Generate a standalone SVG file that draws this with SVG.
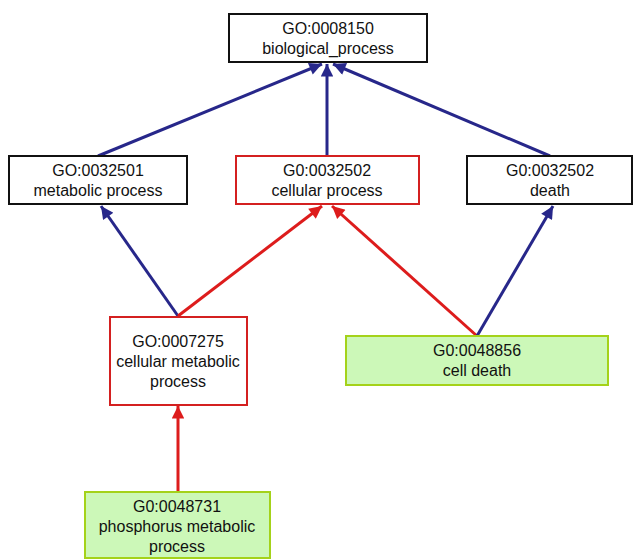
<svg xmlns="http://www.w3.org/2000/svg" width="641" height="559" viewBox="0 0 641 559">
<style>
.n rect{stroke-width:2}
.w{fill:#fff;stroke:#111}
.r{fill:#fff;stroke:#d42020}
.g{fill:#ccf8b8;stroke:#a4d21a}
text{font-family:"Liberation Sans",Arial,sans-serif;font-size:16px;fill:#111;text-anchor:middle}
.b{stroke:#27278a;stroke-width:3;fill:none}
.rd{stroke:#dd1c1c;stroke-width:3;fill:none}
</style>
<defs>
<marker id="ab" viewBox="0 0 10 10" refX="10" refY="5" markerWidth="5.8" markerHeight="4.2" orient="auto" markerUnits="strokeWidth"><path d="M0,0L10,5L0,10z" fill="#27278a"/></marker>
<marker id="ar" viewBox="0 0 10 10" refX="10" refY="5" markerWidth="5.8" markerHeight="4.2" orient="auto" markerUnits="strokeWidth"><path d="M0,0L10,5L0,10z" fill="#dd1c1c"/></marker>
</defs>
<rect width="641" height="559" fill="#fff"/>
<g id="edges">
<line class="b" x1="98" y1="156" x2="322" y2="64" marker-end="url(#ab)"/>
<line class="b" x1="327" y1="156" x2="327" y2="64" marker-end="url(#ab)"/>
<line class="b" x1="550" y1="156" x2="333" y2="64" marker-end="url(#ab)"/>
<line class="b" x1="178" y1="316" x2="101" y2="206" marker-end="url(#ab)"/>
<line class="rd" x1="178" y1="316" x2="322" y2="206" marker-end="url(#ar)"/>
<line class="rd" x1="477" y1="336" x2="332" y2="206" marker-end="url(#ar)"/>
<line class="b" x1="477" y1="336" x2="553" y2="206" marker-end="url(#ab)"/>
<line class="rd" x1="178" y1="492" x2="178" y2="406" marker-end="url(#ar)"/>
</g>
<g id="n1" class="n"><rect class="w" x="229" y="14" width="198" height="48"/><text x="328" y="34">GO:0008150</text><text x="328" y="54">biological_process</text></g>
<g id="n2" class="n"><rect class="w" x="9" y="156" width="178" height="48"/><text x="98" y="176">GO:0032501</text><text x="98" y="196">metabolic process</text></g>
<g id="n3" class="n"><rect class="r" x="236" y="156" width="183" height="48"/><text x="327" y="176">G0:0032502</text><text x="327" y="196">cellular process</text></g>
<g id="n4" class="n"><rect class="w" x="467" y="156" width="165" height="48"/><text x="550" y="176">G0:0032502</text><text x="550" y="196">death</text></g>
<g id="n5" class="n"><rect class="r" x="110" y="317" width="137" height="88"/><text x="178" y="347">GO:0007275</text><text x="178" y="367">cellular metabolic</text><text x="178" y="387">process</text></g>
<g id="n6" class="n"><rect class="g" x="346" y="336" width="262" height="49"/><text x="477" y="356">G0:0048856</text><text x="477" y="376">cell death</text></g>
<g id="n7" class="n"><rect class="g" x="85" y="492" width="185" height="66"/><text x="177" y="512">G0:0048731</text><text x="177" y="532">phosphorus metabolic</text><text x="177" y="552">process</text></g>
</svg>
